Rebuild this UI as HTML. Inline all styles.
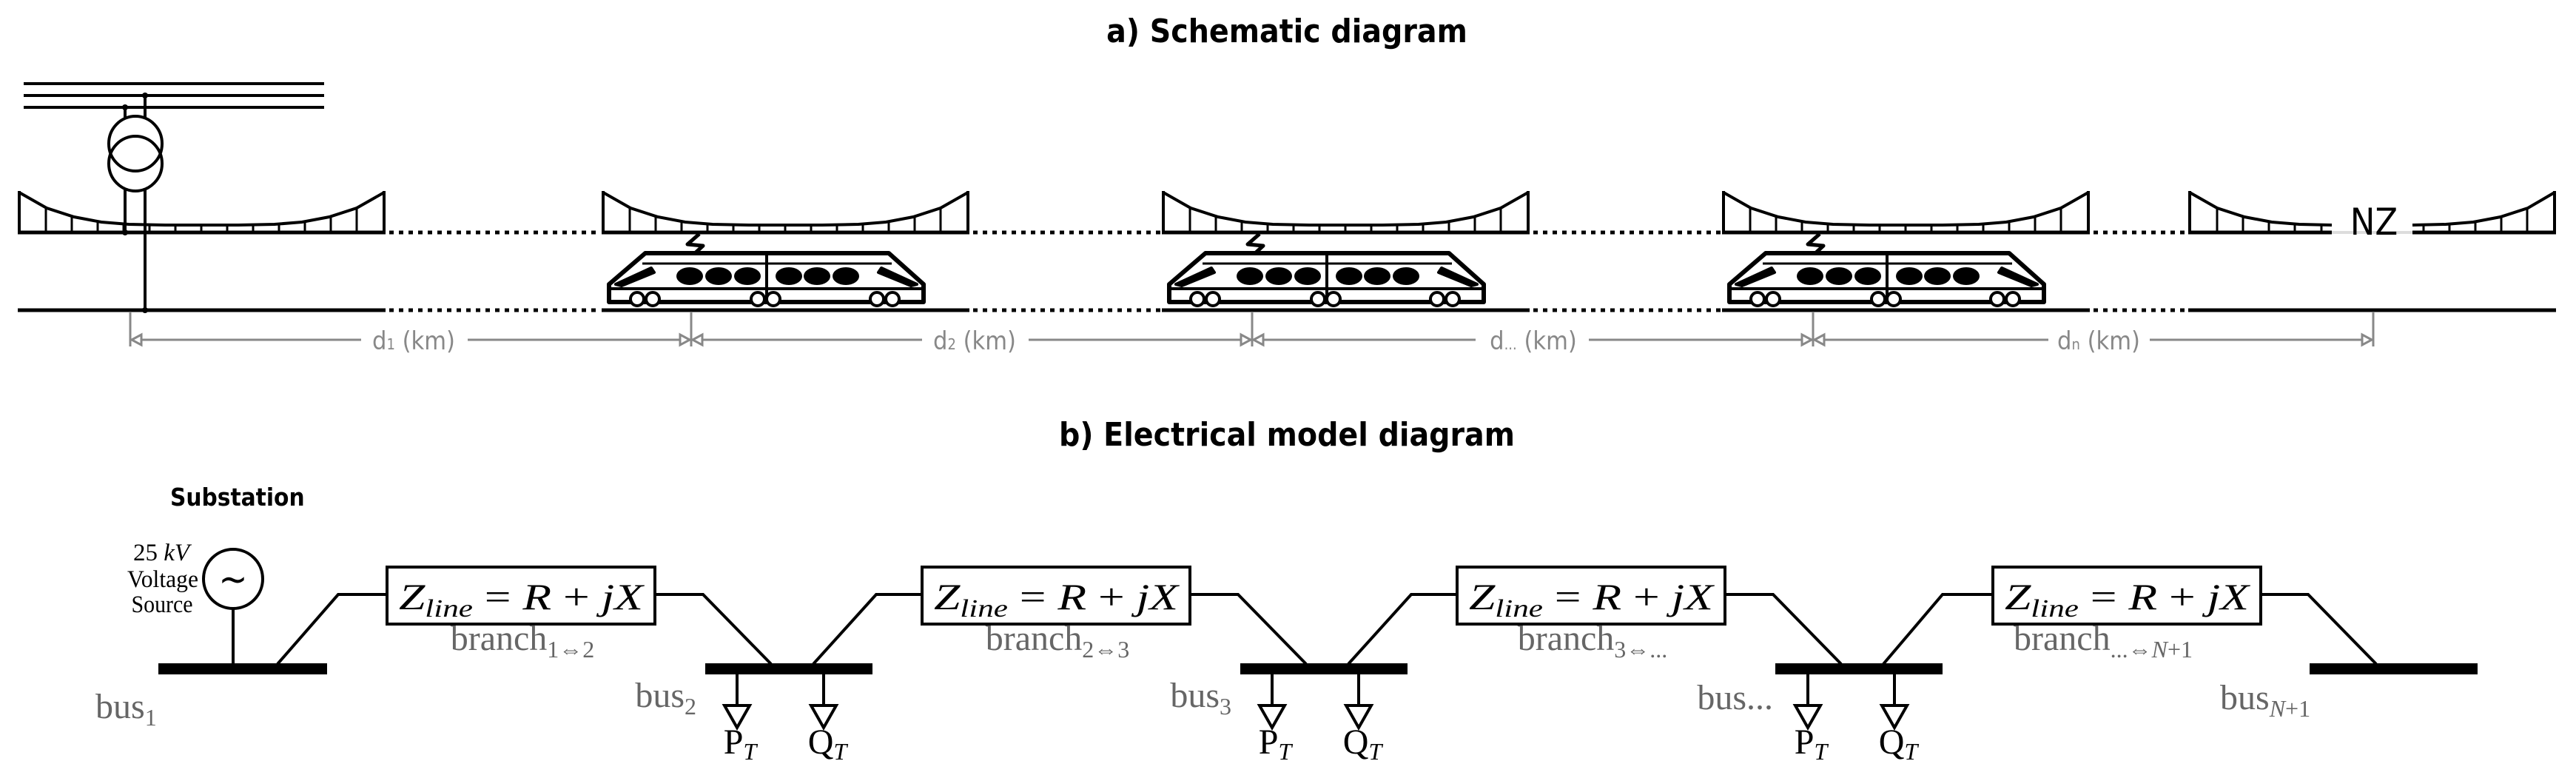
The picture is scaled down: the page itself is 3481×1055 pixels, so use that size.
<!DOCTYPE html>
<html><head><meta charset="utf-8"><style>
html,body{margin:0;padding:0;background:#fff;}
svg{display:block;}
.t{font-family:"DejaVu Sans Condensed","DejaVu Sans","Liberation Sans",sans-serif;}
.s{font-family:"Liberation Serif",serif;}
</style></head><body>
<svg width="3481" height="1055" viewBox="0 0 3481 1055" xmlns="http://www.w3.org/2000/svg">
<defs>
<g id="cat">
 <polyline points="26,260 63,281 100,293 137,300 174,303 223,304 272.5,304 322,304 371,303 408,300 445,293 482,281 519,260" fill="none" stroke="#000" stroke-width="4"/>
 <line x1="26" y1="258" x2="26" y2="316" stroke="#000" stroke-width="4"/>
 <line x1="519" y1="258" x2="519" y2="316" stroke="#000" stroke-width="4"/>
 <g stroke="#000" stroke-width="3">
  <line x1="62" y1="281" x2="62" y2="314"/><line x1="97" y1="293" x2="97" y2="314"/>
  <line x1="132" y1="299" x2="132" y2="314"/><line x1="167" y1="302" x2="167" y2="314"/>
  <line x1="202" y1="304" x2="202" y2="314"/><line x1="237" y1="304" x2="237" y2="314"/>
  <line x1="272" y1="304" x2="272" y2="314"/><line x1="307" y1="304" x2="307" y2="314"/>
  <line x1="342" y1="304" x2="342" y2="314"/><line x1="377" y1="302" x2="377" y2="314"/>
  <line x1="412" y1="299" x2="412" y2="314"/><line x1="447" y1="293" x2="447" y2="314"/>
  <line x1="482" y1="281" x2="482" y2="314"/>
 </g>
 <line x1="24" y1="314" x2="521" y2="314" stroke="#000" stroke-width="5"/>
 <line x1="24" y1="419" x2="521" y2="419" stroke="#000" stroke-width="5"/>
</g>
<g id="train">
 <path d="M872,342 L1201,342 L1248,384 L1248,408 L823,408 L823,384 Z" fill="#fff" stroke="#000" stroke-width="6" stroke-linejoin="round"/>
 <line x1="868" y1="356" x2="1205" y2="356" stroke="#000" stroke-width="3"/>
 <line x1="826" y1="390" x2="1245" y2="390" stroke="#000" stroke-width="4"/>
 <path d="M832,384 L880,362 L884,368 L840,386 Z" fill="#000" stroke="#000" stroke-width="4" stroke-linejoin="round"/>
 <path d="M1239,384 L1191,362 L1187,368 L1231,386 Z" fill="#000" stroke="#000" stroke-width="4" stroke-linejoin="round"/>
 <g fill="#000">
  <ellipse cx="932" cy="373" rx="18" ry="12"/><ellipse cx="971" cy="373" rx="18" ry="12"/><ellipse cx="1010" cy="373" rx="18" ry="12"/>
  <ellipse cx="1066" cy="373" rx="18" ry="12"/><ellipse cx="1104" cy="373" rx="18" ry="12"/><ellipse cx="1143" cy="373" rx="18" ry="12"/>
 </g>
 <line x1="1036" y1="342" x2="1036" y2="408" stroke="#000" stroke-width="4"/>
 <g fill="#fff" stroke="#000" stroke-width="4">
  <circle cx="861" cy="404" r="9"/><circle cx="882" cy="404" r="9"/>
  <circle cx="1024" cy="404" r="9"/><circle cx="1045" cy="404" r="9"/>
  <circle cx="1185" cy="404" r="9"/><circle cx="1206" cy="404" r="9"/>
 </g>
 <path d="M945,316 L929,330 L950,332 L938,343" fill="none" stroke="#000" stroke-width="5" stroke-linejoin="round"/>
</g>
</defs>

<text class="t" x="1739" y="57" font-size="44" font-weight="bold" text-anchor="middle">a) Schematic diagram</text>
<text class="t" x="1739" y="602" font-size="44" font-weight="bold" text-anchor="middle">b) Electrical model diagram</text>

<g stroke="#000" stroke-width="4" fill="none">
 <line x1="32" y1="113" x2="438" y2="113"/>
 <line x1="32" y1="129" x2="438" y2="129"/>
 <line x1="32" y1="145" x2="438" y2="145"/>
 <ellipse cx="183" cy="194" rx="36" ry="37"/>
 <ellipse cx="183" cy="221" rx="36" ry="37"/>
 <line x1="169" y1="145" x2="169" y2="159"/>
 <line x1="169" y1="256" x2="169" y2="314"/>
 <line x1="196" y1="129" x2="196" y2="159"/>
 <line x1="196" y1="256" x2="196" y2="419"/>
</g>
<g fill="#000"><circle cx="196" cy="129" r="4"/><circle cx="169" cy="145" r="4"/><circle cx="169" cy="314" r="4"/><circle cx="196" cy="419" r="4"/></g>

<use href="#cat"/>
<use href="#cat" transform="translate(789,0)"/>
<use href="#cat" transform="translate(1546,0)"/>
<use href="#cat" transform="translate(2303,0)"/>

<g stroke="#000" stroke-width="4" fill="none">
 <polyline points="2959,260 2996,281 3033,293 3070,300 3107,303 3151,304"/>
 <polyline points="3260,304 3305,303 3342,300 3379,293 3416,281 3452,260"/>
 <line x1="2959" y1="258" x2="2959" y2="316"/><line x1="3452" y1="258" x2="3452" y2="316"/>
 <line x1="2957" y1="314" x2="3151" y2="314" stroke-width="5"/>
 <line x1="3260" y1="314" x2="3454" y2="314" stroke-width="5"/>
 <line x1="2957" y1="419" x2="3454" y2="419" stroke-width="5"/>
</g>
<g stroke="#000" stroke-width="3">
 <line x1="2996" y1="281" x2="2996" y2="314"/><line x1="3031" y1="293" x2="3031" y2="314"/><line x1="3066" y1="299" x2="3066" y2="314"/><line x1="3101" y1="302" x2="3101" y2="314"/><line x1="3137" y1="304" x2="3137" y2="314"/>
 <line x1="3275" y1="304" x2="3275" y2="314"/><line x1="3310" y1="302" x2="3310" y2="314"/><line x1="3345" y1="299" x2="3345" y2="314"/><line x1="3380" y1="293" x2="3380" y2="314"/><line x1="3415" y1="281" x2="3415" y2="314"/>
</g>
<line x1="3151" y1="314" x2="3260" y2="314" stroke="#ddd" stroke-width="4"/>
<text class="t" x="3208" y="317" font-size="50" text-anchor="middle">NZ</text>

<g stroke="#000" stroke-width="5" stroke-dasharray="6 7">
 <line x1="526" y1="314" x2="812" y2="314"/><line x1="526" y1="419" x2="812" y2="419"/>
 <line x1="1315" y1="314" x2="1569" y2="314"/><line x1="1315" y1="419" x2="1569" y2="419"/>
 <line x1="2072" y1="314" x2="2326" y2="314"/><line x1="2072" y1="419" x2="2326" y2="419"/>
 <line x1="2829" y1="314" x2="2956" y2="314"/><line x1="2829" y1="419" x2="2956" y2="419"/>
</g>

<use href="#train"/>
<use href="#train" transform="translate(757,0)"/>
<use href="#train" transform="translate(1514,0)"/>

<g stroke="#888" stroke-width="3" fill="#fff">
 <line x1="176" y1="421" x2="176" y2="468"/><line x1="934" y1="421" x2="934" y2="468"/>
 <line x1="1692" y1="421" x2="1692" y2="468"/><line x1="2450" y1="421" x2="2450" y2="468"/>
 <line x1="3207" y1="421" x2="3207" y2="468"/>
 <line x1="176" y1="459" x2="488" y2="459"/><line x1="632" y1="459" x2="934" y2="459"/>
 <line x1="934" y1="459" x2="1246" y2="459"/><line x1="1390" y1="459" x2="1692" y2="459"/>
 <line x1="1692" y1="459" x2="1994" y2="459"/><line x1="2147" y1="459" x2="2450" y2="459"/>
 <line x1="2450" y1="459" x2="2768" y2="459"/><line x1="2905" y1="459" x2="3207" y2="459"/>
 <polygon points="178,459 191,452 191,466"/>
 <polygon points="932,459 919,452 919,466"/><polygon points="936,459 949,452 949,466"/>
 <polygon points="1690,459 1677,452 1677,466"/><polygon points="1694,459 1707,452 1707,466"/>
 <polygon points="2448,459 2435,452 2435,466"/><polygon points="2452,459 2465,452 2465,466"/>
 <polygon points="3205,459 3192,452 3192,466"/>
</g>
<g class="t" font-size="34" fill="#888" text-anchor="middle">
 <text x="559" y="472">d<tspan font-size="20">1</tspan> (km)</text>
 <text x="1317" y="472">d<tspan font-size="20">2</tspan> (km)</text>
 <text x="2072" y="472">d<tspan font-size="20">...</tspan> (km)</text>
 <text x="2836" y="472">d<tspan font-size="20">n</tspan> (km)</text>
</g>

<text class="t" x="230" y="683" font-size="33" font-weight="bold">Substation</text>
<g class="s" font-size="33" text-anchor="middle">
 <text x="218" y="757" textLength="76" lengthAdjust="spacingAndGlyphs">25 <tspan font-style="italic">kV</tspan></text>
 <text x="220" y="793" textLength="96" lengthAdjust="spacingAndGlyphs">Voltage</text>
 <text x="219" y="827" textLength="83" lengthAdjust="spacingAndGlyphs">Source</text>
</g>
<circle cx="315" cy="782" r="40" fill="none" stroke="#000" stroke-width="4"/>
<text class="t" x="315" y="800" font-size="52" text-anchor="middle">~</text>
<line x1="315" y1="822" x2="315" y2="897" stroke="#000" stroke-width="4"/>

<g fill="#000">
 <rect x="214" y="896" width="228" height="15"/>
 <rect x="953" y="896" width="226" height="15"/>
 <rect x="1676" y="896" width="226" height="15"/>
 <rect x="2399" y="896" width="226" height="15"/>
 <rect x="3121" y="896" width="227" height="15"/>
</g>

<g stroke="#000" stroke-width="4" fill="none">
 <polyline points="375,897 457,803 523,803"/>
 <polyline points="885,803 950,803 1042,897"/>
 <polyline points="1099,897 1184,803 1246,803"/>
 <polyline points="1608,803 1673,803 1765,897"/>
 <polyline points="1822,897 1907,803 1969,803"/>
 <polyline points="2331,803 2396,803 2488,897"/>
 <polyline points="2545,897 2625,803 2693,803"/>
 <polyline points="3055,803 3119,803 3211,897"/>
 <rect x="523" y="766" width="362" height="77"/>
 <rect x="1246" y="766" width="362" height="77"/>
 <rect x="1969" y="766" width="362" height="77"/>
 <rect x="2693" y="766" width="362" height="77"/>
</g>
<g class="s" font-size="50" text-anchor="middle">
 <text x="704" y="823" textLength="330" lengthAdjust="spacingAndGlyphs"><tspan font-style="italic">Z</tspan><tspan font-style="italic" font-size="34" dy="10">line</tspan><tspan dy="-10"> = </tspan><tspan font-style="italic">R</tspan> + <tspan font-style="italic">jX</tspan></text>
 <text x="1427" y="823" textLength="330" lengthAdjust="spacingAndGlyphs"><tspan font-style="italic">Z</tspan><tspan font-style="italic" font-size="34" dy="10">line</tspan><tspan dy="-10"> = </tspan><tspan font-style="italic">R</tspan> + <tspan font-style="italic">jX</tspan></text>
 <text x="2150" y="823" textLength="330" lengthAdjust="spacingAndGlyphs"><tspan font-style="italic">Z</tspan><tspan font-style="italic" font-size="34" dy="10">line</tspan><tspan dy="-10"> = </tspan><tspan font-style="italic">R</tspan> + <tspan font-style="italic">jX</tspan></text>
 <text x="2874" y="823" textLength="330" lengthAdjust="spacingAndGlyphs"><tspan font-style="italic">Z</tspan><tspan font-style="italic" font-size="34" dy="10">line</tspan><tspan dy="-10"> = </tspan><tspan font-style="italic">R</tspan> + <tspan font-style="italic">jX</tspan></text>
</g>
<g class="s" font-size="48" fill="#666" text-anchor="middle">
 <text x="706" y="878">branch<tspan font-size="32" dy="10">1⇔2</tspan></text>
 <text x="1429" y="878">branch<tspan font-size="32" dy="10">2⇔3</tspan></text>
 <text x="2152" y="878">branch<tspan font-size="32" dy="10">3⇔...</tspan></text>
 <text x="2842" y="878">branch<tspan font-size="32" dy="10">...⇔<tspan font-style="italic">N</tspan>+1</tspan></text>
</g>
<g class="s" font-size="48" fill="#666">
 <text x="129" y="970">bus<tspan font-size="32" dy="10">1</tspan></text>
 <text x="941" y="955" text-anchor="end">bus<tspan font-size="32" dy="10">2</tspan></text>
 <text x="1664" y="955" text-anchor="end">bus<tspan font-size="32" dy="10">3</tspan></text>
 <text x="2396" y="958" text-anchor="end">bus...</text>
 <text x="3000" y="958">bus<tspan font-size="32" dy="10" font-style="italic">N</tspan><tspan font-size="32">+1</tspan></text>
</g>

<g stroke="#000" stroke-width="4" fill="#fff">
 <line x1="996" y1="911" x2="996" y2="953"/><polygon points="979,953 1013,953 996,983"/>
 <line x1="1113" y1="911" x2="1113" y2="953"/><polygon points="1096,953 1130,953 1113,983"/>
 <line x1="1719" y1="911" x2="1719" y2="953"/><polygon points="1702,953 1736,953 1719,983"/>
 <line x1="1836" y1="911" x2="1836" y2="953"/><polygon points="1819,953 1853,953 1836,983"/>
 <line x1="2443" y1="911" x2="2443" y2="953"/><polygon points="2426,953 2460,953 2443,983"/>
 <line x1="2560" y1="911" x2="2560" y2="953"/><polygon points="2543,953 2577,953 2560,983"/>
</g>
<g class="s" font-size="48" text-anchor="middle">
 <text x="1000" y="1018">P<tspan font-size="32" font-style="italic" dy="8">T</tspan></text>
 <text x="1118" y="1018">Q<tspan font-size="32" font-style="italic" dy="8">T</tspan></text>
 <text x="1723" y="1018">P<tspan font-size="32" font-style="italic" dy="8">T</tspan></text>
 <text x="1841" y="1018">Q<tspan font-size="32" font-style="italic" dy="8">T</tspan></text>
 <text x="2447" y="1018">P<tspan font-size="32" font-style="italic" dy="8">T</tspan></text>
 <text x="2565" y="1018">Q<tspan font-size="32" font-style="italic" dy="8">T</tspan></text>
</g>
</svg>
</body></html>
